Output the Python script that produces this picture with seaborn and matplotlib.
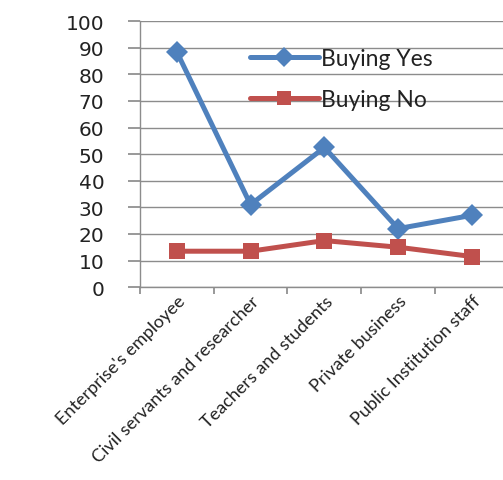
import matplotlib
matplotlib.use("Agg")
import matplotlib.pyplot as plt
import seaborn as sns
import pandas as pd

categories = ["Enterprise's employee", "Civil servants and researcher",
              "Teachers and students", "Private business", "Public Institution staff"]
buying_yes = [88.5, 31, 52.5, 22, 27]
buying_no = [13.5, 13.5, 17.5, 15, 11.5]
series_names = ["Buying Yes", "Buying No"]
yticks = list(range(0, 101, 10))

df = pd.DataFrame({
    "x": list(range(len(categories))) * 2,
    "value": buying_yes + buying_no,
    "series": [series_names[0]] * len(categories) + [series_names[1]] * len(categories),
})

sns.set_theme(style="white")
plt.rcParams['font.family'] = ['Lato', 'DejaVu Sans']

fig = plt.figure(figsize=(5.03, 4.81), dpi=100)
ax = fig.add_axes([0.278, 0.401, 0.722, 0.553])

palette = {"Buying Yes": "#4F81BD", "Buying No": "#C0504D"}
sns.lineplot(data=df, x="x", y="value", hue="series", style="series",
             markers={"Buying Yes": "D", "Buying No": "s"}, dashes=False,
             palette=palette, linewidth=3.6, markersize=11.5, markeredgewidth=0,
             ax=ax, legend=True)

ax.set_xlim(-0.5, 4.42)
ax.set_ylim(0, 100)
ax.set_yticks(yticks)
ax.set_yticklabels([str(t) for t in yticks], fontsize=14.5, family='DejaVu Sans', color='#222222')
ax.yaxis.grid(True, color='#8c8c8c', linewidth=1)
ax.set_axisbelow(True)

# x ticks at category boundaries, labels at categories
ax.set_xticks([i - 0.5 for i in range(len(categories))], minor=False)
ax.set_xticklabels([])
ax.set_xticks(list(range(len(categories))), minor=True)
ax.set_xticklabels(categories, minor=True, rotation=45, ha='right', rotation_mode='anchor',
                   fontsize=13, color='#222222')
ax.tick_params(axis='x', which='major', length=5, color='#8c8c8c', direction='out', bottom=True)
ax.tick_params(axis='x', which='minor', length=0, pad=4)
ax.tick_params(axis='y', length=8.6, color='#8c8c8c', direction='out', left=True, pad=17)

for s in ['top', 'right']:
    ax.spines[s].set_visible(False)
for s in ['left', 'bottom']:
    ax.spines[s].set_color('#8c8c8c')
    ax.spines[s].set_linewidth(1)

ax.set_xlabel("")
ax.set_ylabel("")

leg = ax.legend(loc='upper left', bbox_to_anchor=(0.303, 0.90), frameon=False,
                fontsize=16.5, handlelength=3.0, handletextpad=0.1, labelspacing=0.9,
                borderaxespad=0, borderpad=0, markerscale=0.85)
for t in leg.get_texts():
    t.set_color('#222222')

fig.savefig("out.png", dpi=100)
